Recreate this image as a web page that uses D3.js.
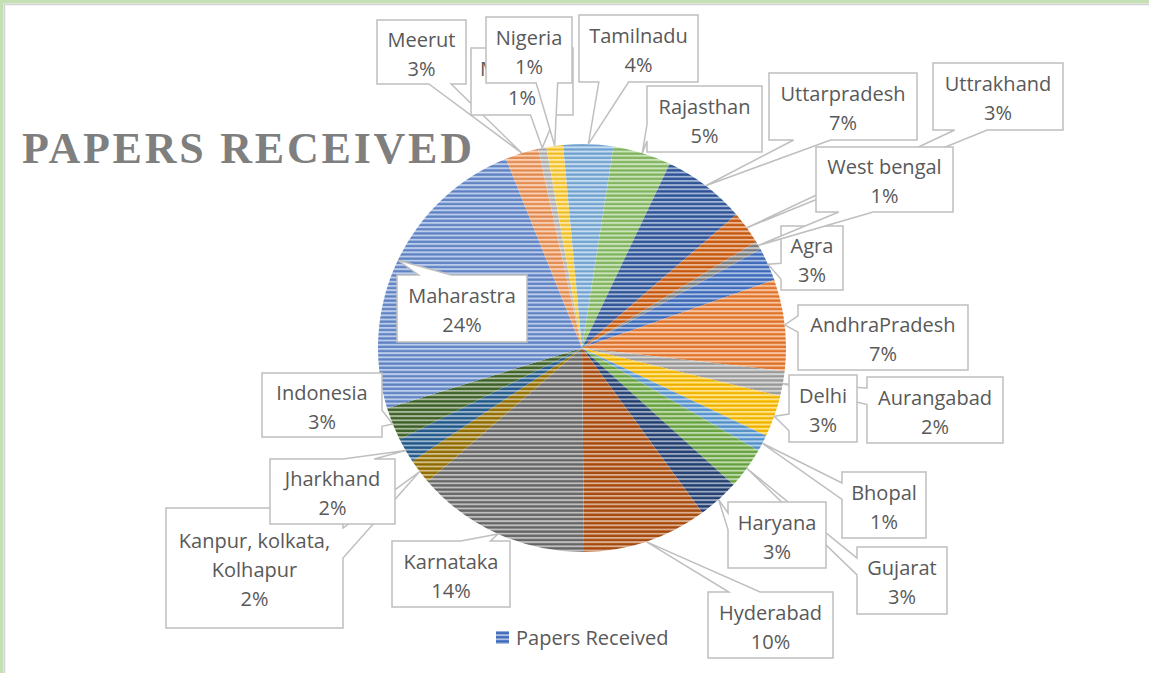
<!DOCTYPE html>
<html>
<head>
<meta charset="utf-8">
<script src="https://cdn.jsdelivr.net/npm/d3@7"></script>
<style>
  body { margin: 0; background: #fff; }
  svg { display: block; }
</style>
</head>
<body>
<div class="chart"></div>
<script>
let width = 1149
let height = 673

// data (paper counts per place)
const places = ["Agra", "AndhraPradesh", "Aurangabad", "Delhi", "Bhopal", "Gujarat", "Haryana",
    "Hyderabad", "Karnataka", "Kanpur, kolkata, Kolhapur", "Jharkhand", "Indonesia", "Maharastra",
    "Meerut", "M", "Nigeria", "Tamilnadu", "Rajasthan", "Uttarpradesh", "Uttrakhand", "West bengal"]
const papers = [4, 11, 3, 5, 2, 5, 5, 15, 21, 3, 3, 4, 36, 4, 1, 2, 6, 7, 10, 4, 1]

// excel office palette, in series order
const colors = ["#4472C4", "#ED7D31", "#A5A5A5", "#FFC000", "#5B9BD5", "#70AD47", "#264478",
    "#B04F10", "#6E6E6E", "#997300", "#255E91", "#43682B", "#698ED0", "#F1975A", "#B7B7B7",
    "#FFCD33", "#7CAFDD", "#8CC168", "#335AA1", "#D26012", "#848484"]

// label box layout [x0, y0, x1, y1], same order as places
const boxes = [
    [781, 226, 843, 290], [798, 305, 968, 370], [867, 377, 1003, 443], [789, 375, 857, 442],
    [842, 472, 926, 538], [857, 547, 947, 614], [728, 502, 826, 568], [708, 592, 833, 658],
    [392, 541, 510, 607], [166, 508, 343, 628], [270, 459, 395, 524], [262, 373, 382, 437],
    [397, 275, 527, 342], [377, 20, 466, 84], [471, 48, 573, 115], [486, 17, 572, 83],
    [579, 15, 698, 82], [647, 86, 762, 152], [769, 73, 917, 140], [933, 63, 1063, 130],
    [816, 147, 953, 212]]

const cx = 582, cy = 348, radius = 204
const textColor = "#595959"

const svg = d3.select(".chart")
    .append("svg")
    .attr("width", width)
    .attr("height", height)

// frame
svg.append("rect").attr("x", 0).attr("y", 0).attr("width", width).attr("height", 3.5).attr("fill", "#C5E0B4")
svg.append("rect").attr("x", 0).attr("y", 0).attr("width", 3.5).attr("height", height).attr("fill", "#C5E0B4")
svg.append("line").attr("x1", 4).attr("x2", width).attr("y1", 4.5).attr("y2", 4.5).attr("stroke", "#D4D4D4").attr("stroke-width", 1.5)
svg.append("line").attr("x1", 4.5).attr("x2", 4.5).attr("y1", 4).attr("y2", height).attr("stroke", "#D4D4D4").attr("stroke-width", 1.5)

// striped fills
const defs = svg.append("defs")
colors.forEach((c, i) => {
    const p = defs.append("pattern")
        .attr("id", "stripe" + i)
        .attr("patternUnits", "userSpaceOnUse")
        .attr("width", 8)
        .attr("height", 4.2)
    p.append("rect").attr("width", 8).attr("height", 4.2).attr("fill", c)
    p.append("rect").attr("y", 0).attr("width", 8).attr("height", 1.8).attr("fill", "#fff").attr("opacity", 0.55)
    p.append("rect").attr("y", 2.7).attr("width", 8).attr("height", 1).attr("fill", "#000").attr("opacity", 0.12)
})

const deg = Math.PI / 180
const pie = d3.pie()
    .sort(null)
    .value(d => d)
    .startAngle(61 * deg)
    .endAngle(421 * deg)

const arcs = pie(papers)
const total = d3.sum(papers)

const arc = d3.arc()
    .innerRadius(0)
    .outerRadius(radius)

const g = svg.append("g")
    .attr("transform", `translate(${cx}, ${cy})`)

g.selectAll("path")
    .data(arcs)
    .enter()
    .append("path")
    .attr("d", arc)
    .attr("fill", (d, i) => `url(#stripe${i})`)

// title
svg.append("text")
    .attr("x", 22)
    .attr("y", 163)
    .attr("font-family", "Liberation Serif, Times New Roman, serif")
    .attr("font-weight", "bold")
    .attr("font-size", 44)
    .attr("fill", "#7F7F7F")
    .attr("textLength", 450)
    .attr("lengthAdjust", "spacing")
    .text("PAPERS RECEIVED")

// wedge rectangle callout like excel
function callout(x, y, w, h, px, py) {
    const dx = px - (x + w / 2)
    const dy = py - (y + h / 2)
    const dq = dx * h / w
    const vert = Math.abs(dy) > Math.abs(dq)
    const x1 = x + w * (dx > 0 ? 7 : 2) / 12
    const x2 = x + w * (dx > 0 ? 10 : 5) / 12
    const y1 = y + h * (dy > 0 ? 7 : 2) / 12
    const y2 = y + h * (dy > 0 ? 10 : 5) / 12
    let s = `M${x},${y}`
    if (vert && dy < 0) s += `L${x1},${y}L${px},${py}L${x2},${y}`
    s += `L${x + w},${y}`
    if (!vert && dx > 0) s += `L${x + w},${y1}L${px},${py}L${x + w},${y2}`
    s += `L${x + w},${y + h}`
    if (vert && dy > 0) s += `L${x2},${y + h}L${px},${py}L${x1},${y + h}`
    s += `L${x},${y + h}`
    if (!vert && dx < 0) s += `L${x},${y2}L${px},${py}L${x},${y1}`
    return s + "Z"
}

const labels = svg.append("g")
arcs.forEach((d, i) => {
    const [x0, y0, x1, y1] = boxes[i]
    const a = (d.startAngle + d.endAngle) / 2
    const px = cx + radius * Math.sin(a)
    const py = cy - radius * Math.cos(a)
    const lg = labels.append("g")
    lg.append("path")
        .attr("d", callout(x0, y0, x1 - x0, y1 - y0, px, py))
        .attr("fill", "#fff")
        .attr("stroke", "#BFBFBF")
        .attr("stroke-width", 1.5)
    let lines = places[i] == "Kanpur, kolkata, Kolhapur" ? ["Kanpur, kolkata,", "Kolhapur"] : [places[i]]
    lines.push(Math.round(d.value / total * 100) + "%")
    const mid = (y0 + y1) / 2
    const lh = 29
    const first = mid - (lines.length - 1) * lh / 2 + 9
    // the "M" label sits mostly under the Nigeria box
    const hidden = places[i] == "M"
    lg.selectAll("text")
        .data(lines)
        .enter()
        .append("text")
        .attr("x", (t, j) => hidden && j == 0 ? x0 + 9 : (x0 + x1) / 2)
        .attr("y", (t, j) => first + j * lh)
        .attr("text-anchor", (t, j) => hidden && j == 0 ? "start" : "middle")
        .attr("font-family", "Open Sans, sans-serif")
        .attr("font-size", 20)
        .attr("fill", textColor)
        .text(t => t)
})

// legend
const legend = svg.append("g")
legend.append("rect")
    .attr("x", 496)
    .attr("y", 631)
    .attr("width", 13)
    .attr("height", 13)
    .attr("fill", "url(#stripe0)")
legend.append("text")
    .attr("x", 516)
    .attr("y", 645)
    .attr("font-family", "Open Sans, sans-serif")
    .attr("font-size", 20)
    .attr("fill", textColor)
    .text("Papers Received")
</script>
</body>
</html>
